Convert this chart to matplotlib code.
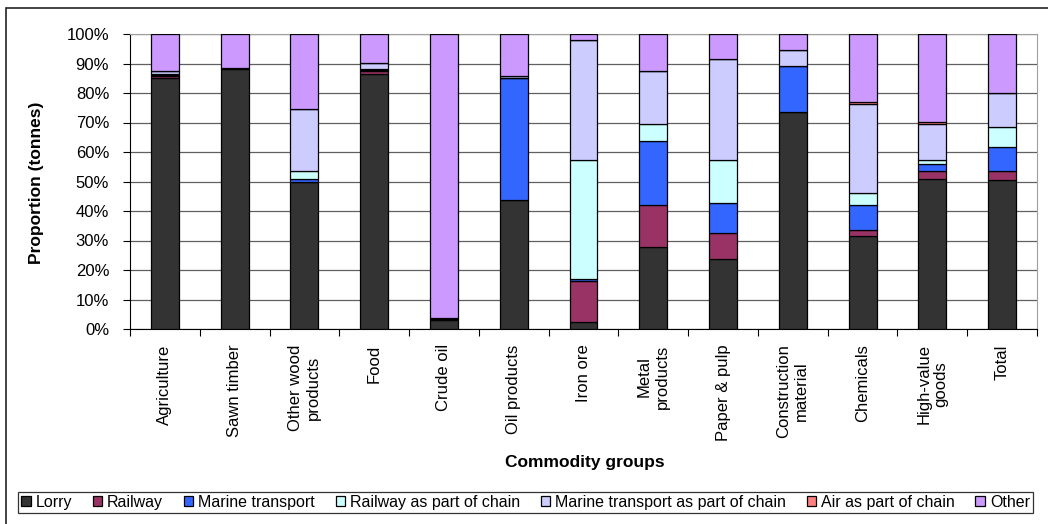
import numpy as np
import matplotlib
matplotlib.use("Agg")
import matplotlib.pyplot as plt
from matplotlib.patches import Rectangle

plt.rcParams['font.family'] = ['Liberation Sans', 'DejaVu Sans']

# commodity groups along the x axis
groups = ["Agriculture", "Sawn timber", "Other wood\nproducts", "Food", "Crude oil",
          "Oil products", "Iron ore", "Metal\nproducts", "Paper & pulp",
          "Construction\nmaterial", "Chemicals", "High-value\ngoods", "Total"]

# share of tonnes per transport mode (%)
lorry        = [85.1, 88.3, 49.7, 86.6, 3.2, 43.8, 2.3, 27.8, 23.7, 73.7, 31.5, 51.0, 50.5]
railway      = [0.5, 0.2, 0.2, 1.0, 0.3, 0.0, 14.1, 14.1, 8.7, 0.0, 2.2, 2.6, 3.1]
marine       = [0.6, 0.0, 1.0, 0.2, 0.2, 41.3, 0.7, 21.7, 10.4, 15.5, 8.2, 2.2, 8.2]
rail_chain   = [0.3, 0.0, 2.8, 0.2, 0.0, 0.0, 40.3, 6.0, 14.5, 0.0, 4.1, 1.5, 6.6]
marine_chain = [0.8, 0.0, 21.0, 2.2, 0.0, 0.5, 40.5, 17.7, 34.2, 5.4, 30.4, 12.3, 11.7]
air_chain    = [0.0, 0.0, 0.0, 0.0, 0.0, 0.0, 0.0, 0.0, 0.0, 0.0, 0.4, 0.4, 0.0]
other        = [12.7, 11.5, 25.3, 9.8, 96.3, 14.4, 2.1, 12.7, 8.5, 5.4, 23.2, 30.0, 19.9]

modes = ["Lorry", "Railway", "Marine transport", "Railway as part of chain",
         "Marine transport as part of chain", "Air as part of chain", "Other"]
colors = ["#333333", "#993366", "#3366ff", "#ccffff", "#ccccff", "#ff8080", "#cc99ff"]
series = [lorry, railway, marine, rail_chain, marine_chain, air_chain, other]

W, H = 1048, 524
fig = plt.figure(figsize=(W / 100, H / 100), dpi=100)
# chart border (only left and top edges fall inside the image)
fig.patches.append(Rectangle((5.5 / W, -0.1), 1.2, 1.1 - 7.5 / H, transform=fig.transFigure,
                             fill=False, edgecolor="#222222", linewidth=1.2))
ax = fig.add_axes([130 / W, 1 - 329 / H, 907 / W, 295 / H])

x = np.arange(len(groups))
bottom = np.zeros(len(groups))
bars = []
for vals, col, name in zip(series, colors, modes):
    vals = np.array(vals)
    b = ax.bar(x, vals, width=0.4, bottom=bottom, color=col, edgecolor="black",
               linewidth=0.9, label=name, zorder=3)
    bars.append(b)
    bottom += vals

ax.set_xlim(-0.5, len(groups) - 0.5)
ax.set_ylim(0, 100)
ax.set_yticks(np.arange(0, 101, 10))
ax.set_yticklabels([f"{v}%" for v in range(0, 101, 10)], fontsize=12)
ax.yaxis.grid(True, color="#606060", linewidth=0.9, zorder=0)
ax.tick_params(axis="y", length=5, width=0.8, pad=10)

ax.set_xticks(x)
ax.set_xticklabels(groups, rotation=90, fontsize=12, ha="center", va="top",
                   multialignment="center")
ax.tick_params(axis="x", which="major", length=0, pad=11)
ax.set_xticks(np.arange(-0.5, len(groups), 1), minor=True)
ax.tick_params(axis="x", which="minor", length=5, width=0.8)

for side in ["top", "right"]:
    ax.spines[side].set_color("#a0a0a0")
for side in ["left", "bottom"]:
    ax.spines[side].set_color("black")

fig.text(37 / W, 1 - 183 / H, "Proportion (tonnes)", rotation=90, ha="center",
         va="center", fontsize=12.5, fontweight="bold")
fig.text(585 / W, 1 - 462 / H, "Commodity groups", ha="center", va="center",
         fontsize=12.5, fontweight="bold")

leg = fig.legend(handles=bars, labels=modes, loc="center", ncol=7, mode="expand",
                 bbox_to_anchor=(18 / W, 1 - 513 / H, 1015 / W, 21 / H),
                 fontsize=11.5, frameon=True, fancybox=False, edgecolor="black",
                 handlelength=0.6, handleheight=0.6, handletextpad=0.3,
                 columnspacing=0.4, borderpad=0.2, borderaxespad=0)
leg.get_frame().set_linewidth(0.9)

fig.savefig("out.png", dpi=100)
